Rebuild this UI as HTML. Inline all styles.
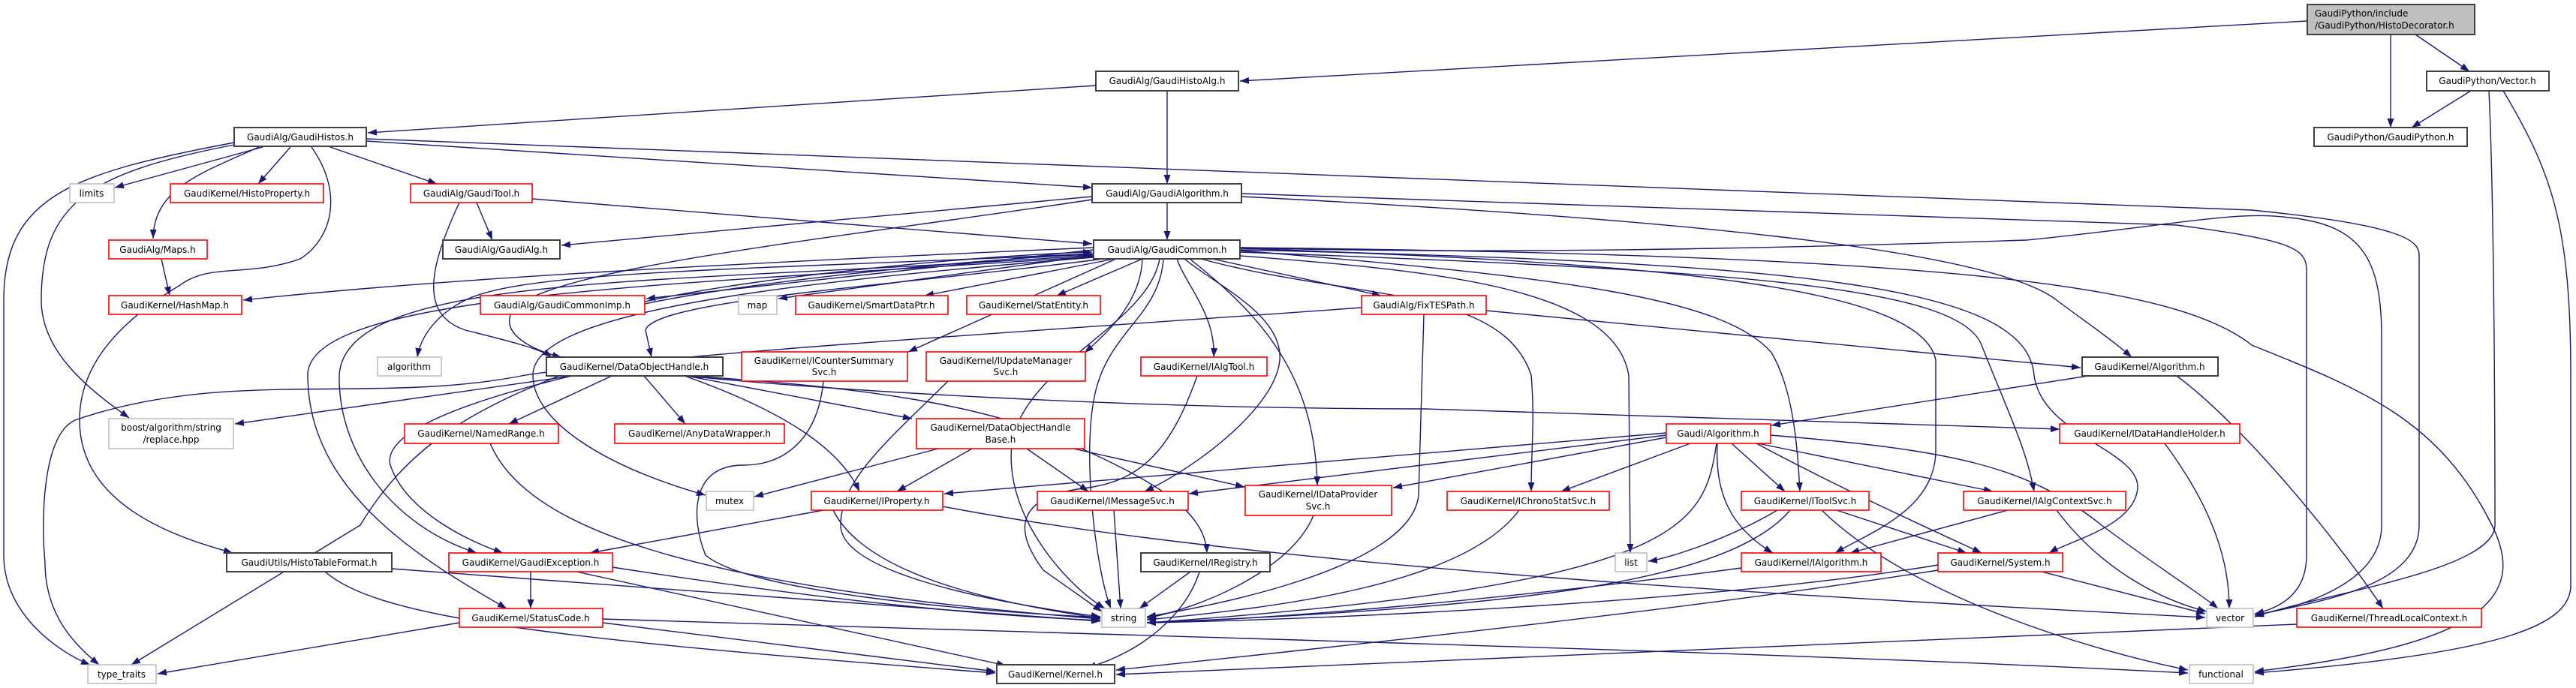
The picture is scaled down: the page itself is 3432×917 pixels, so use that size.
<!DOCTYPE html>
<html><head><meta charset="utf-8"><style>
html,body{margin:0;padding:0;background:#fff;}
svg{display:block;}
text{font-family:"DejaVu Sans","Liberation Sans",sans-serif;font-size:12px;fill:#000;}
.e{fill:none;stroke:#191970;stroke-width:1.4;marker-end:url(#a);}
.b{fill:#fff;stroke:#404040;stroke-width:2;}
.r{fill:#fff;stroke:#ff0000;stroke-width:1.6;}
.g{fill:#fff;stroke:#bfbfbf;stroke-width:1.6;}
</style></head><body>
<svg width="3432" height="917" viewBox="0 0 3432 917" xmlns="http://www.w3.org/2000/svg">
<defs><marker id="a" markerUnits="userSpaceOnUse" markerWidth="13" markerHeight="9" refX="12" refY="4.5" orient="auto"><path d="M0,0 L12,4.5 L0,9 z" fill="#191970"/></marker></defs>
<g>
<path class="e" d="M3074,28 L1652,108"/>
<path class="e" d="M3185,46 L3185,170"/>
<path class="e" d="M3218,46 L3290,95"/>
<path class="e" d="M3292,121 L3213,170"/>
<path class="e" d="M3316,121 C3322,250 3324,500 3324,700 C3324,760 3100,790 3004,822"/>
<path class="e" d="M3335,121 C3400,230 3425,300 3425,500 L3425,780 C3425,830 3350,870 3004,897"/>
<path class="e" d="M1460,114 L490,177"/>
<path class="e" d="M1555,121 L1555,245"/>
<path class="e" d="M350,196 L153,250"/>
<path class="e" d="M387,196 L344,245"/>
<path class="e" d="M440,196 L582,245"/>
<path class="e" d="M345,196 C270,230 205,250 204,318"/>
<path class="e" d="M488,188 L1455,250"/>
<path class="e" d="M488,185 L3000,280 C3200,300 3223,320 3223,340 L3223,700 C3223,780 3100,800 3004,820"/>
<path class="e" d="M312,190 C100,230 5,260 5,400 L5,740 C5,820 80,870 120,886"/>
<path class="e" d="M312,193 C120,230 55,270 55,400 C55,470 120,520 172,557"/>
<path class="e" d="M415,196 C460,260 440,320 400,345 C330,370 280,350 240,380 C140,440 106,500 106,560 C106,680 250,720 310,737"/>
<path class="e" d="M635,270 L656,320"/>
<path class="e" d="M709,265 L1455,325"/>
<path class="e" d="M612,270 C570,360 560,420 620,440 C680,455 720,465 735,476"/>
<path class="e" d="M1555,270 L1555,320"/>
<path class="e" d="M1455,262 L748,327"/>
<path class="e" d="M1455,266 C1100,320 700,360 680,420 C670,450 720,470 748,476"/>
<path class="e" d="M1654,262 C2200,290 2650,330 2740,400 C2780,430 2810,450 2840,476"/>
<path class="e" d="M1654,258 L2900,300 C3050,320 3073,330 3073,360 L3073,740 C3073,790 3040,810 3004,818"/>
<path class="e" d="M1652,330 C2000,340 2400,330 2700,320 C2900,300 2980,280 3050,290 C3150,300 3173,350 3173,450 L3173,700 C3173,780 3060,810 3004,820"/>
<path class="e" d="M1457,330 C1000,350 600,370 324,400"/>
<path class="e" d="M1457,333 L861,398"/>
<path class="e" d="M859,402 C1000,370 1300,340 1455,336"/>
<path class="e" d="M859,405 C1000,375 1300,345 1455,339"/>
<path class="e" d="M1460,340 L1037,398"/>
<path class="e" d="M1485,345 L1232,394"/>
<path class="e" d="M1522,345 L1408,394"/>
<path class="e" d="M1615,345 L1840,394"/>
<path class="e" d="M1457,338 C1000,360 700,360 620,400 C580,420 560,450 556,476"/>
<path class="e" d="M1470,345 C1200,380 870,400 860,440 L868,476"/>
<path class="e" d="M1487,345 L1210,469"/>
<path class="e" d="M1522,345 C1520,400 1480,440 1445,470"/>
<path class="e" d="M1568,345 C1580,380 1620,420 1617,476"/>
<path class="e" d="M1578,345 C1620,380 1710,420 1705,480 C1700,540 1600,620 1525,655"/>
<path class="e" d="M1585,345 C1680,420 1752,500 1755,647"/>
<path class="e" d="M1600,345 C1800,400 2000,380 2040,500 C2045,560 2040,600 2040,655"/>
<path class="e" d="M1640,340 C1900,360 2150,380 2170,500 L2172,737"/>
<path class="e" d="M1550,345 C1545,420 1480,440 1460,520 C1440,600 1460,760 1480,811"/>
<path class="e" d="M1545,345 C1530,430 1380,480 1350,580 C1330,680 1420,780 1472,811"/>
<path class="e" d="M1652,334 C2100,370 2300,400 2360,470 C2390,520 2395,600 2398,655"/>
<path class="e" d="M1652,336 C2300,360 2610,380 2640,460 C2680,560 2700,600 2710,655"/>
<path class="e" d="M1652,333 C2400,350 2700,380 2710,500 C2720,580 2850,600 2848,650 C2845,700 2760,720 2730,737"/>
<path class="e" d="M1652,331 C2200,350 2560,380 2579,480 L2579,600 C2579,680 2490,710 2445,737"/>
<path class="e" d="M1652,330 C2600,340 2900,380 3000,460 C3150,520 3250,560 3320,700 C3370,800 3300,860 3004,895"/>
<path class="e" d="M1457,340 C900,380 460,360 452,500 C450,600 520,700 635,737"/>
<path class="e" d="M1457,342 C900,380 410,390 410,500 C410,650 550,740 675,811"/>
<path class="e" d="M1457,343 C1000,380 710,420 710,500 C710,560 800,620 940,660"/>
<path class="e" d="M1814,410 C1400,440 900,470 700,500 C500,540 300,490 100,560 C55,580 55,700 60,750 C60,820 100,860 132,886"/>
<path class="e" d="M1897,419 L1890,660 C1880,760 1600,810 1528,822"/>
<path class="e" d="M1980,414 L2772,490"/>
<path class="e" d="M763,501 L313,565"/>
<path class="e" d="M745,501 C620,550 540,600 480,700 L175,886"/>
<path class="e" d="M815,501 L678,565"/>
<path class="e" d="M858,501 L913,565"/>
<path class="e" d="M915,501 L1215,558"/>
<path class="e" d="M912,501 C1050,550 1120,600 1145,655"/>
<path class="e" d="M762,501 C600,540 510,580 520,620 C540,680 620,720 670,737"/>
<path class="e" d="M915,501 C1100,520 1500,545 1900,545 L2744,572"/>
<path class="e" d="M915,501 C1150,515 1300,540 1400,580 C1540,640 1605,680 1608,737"/>
<path class="e" d="M1250,598 L1005,662"/>
<path class="e" d="M1295,598 L1195,655"/>
<path class="e" d="M1368,598 L1450,655"/>
<path class="e" d="M1430,598 L1658,649"/>
<path class="e" d="M1097,508 C1090,580 1050,620 990,620 C920,620 920,690 940,740 C1000,790 1300,815 1466,823"/>
<path class="e" d="M1263,508 C1180,590 1120,640 1120,700 C1120,760 1300,800 1466,822"/>
<path class="e" d="M1595,501 C1560,600 1520,640 1450,650 C1360,660 1345,700 1390,760 L1468,815"/>
<path class="e" d="M653,591 C700,700 900,780 1466,825"/>
<path class="e" d="M1097,680 L786,737"/>
<path class="e" d="M1110,680 C1150,760 1300,800 1466,824"/>
<path class="e" d="M1256,675 C1700,760 2500,800 2938,823"/>
<path class="e" d="M1484,680 L1493,811"/>
<path class="e" d="M1750,687 C1720,760 1600,810 1528,824"/>
<path class="e" d="M2024,680 C1950,780 1700,810 1528,826"/>
<path class="e" d="M1586,762 L1518,811"/>
<path class="e" d="M1598,762 C1580,820 1520,870 1448,890"/>
<path class="e" d="M707,762 L707,811"/>
<path class="e" d="M816,756 C1100,800 1300,820 1466,827"/>
<path class="e" d="M768,762 L1340,887"/>
<path class="e" d="M612,830 L210,898"/>
<path class="e" d="M803,830 L1326,895"/>
<path class="e" d="M803,825 C1600,850 2400,870 2915,897"/>
<path class="e" d="M522,758 L1466,828"/>
<path class="e" d="M433,762 C500,820 700,850 1326,897"/>
<path class="e" d="M2220,577 L1258,658"/>
<path class="e" d="M2220,580 L1584,658"/>
<path class="e" d="M2220,583 L1856,650"/>
<path class="e" d="M2252,591 L2080,655"/>
<path class="e" d="M2287,591 C2270,700 2250,780 1528,830"/>
<path class="e" d="M2307,591 L2378,655"/>
<path class="e" d="M2288,591 C2285,650 2300,700 2362,737"/>
<path class="e" d="M2342,591 L2655,655"/>
<path class="e" d="M2340,591 C2450,650 2560,700 2640,737"/>
<path class="e" d="M2359,580 C2600,600 2700,620 2800,700 C2880,760 2930,790 2955,811"/>
<path class="e" d="M2782,501 L2360,567"/>
<path class="e" d="M2900,501 C2980,560 3100,700 3175,811"/>
<path class="e" d="M2884,591 C2950,680 2970,750 2970,811"/>
<path class="e" d="M2368,680 C2300,720 2220,745 2196,748"/>
<path class="e" d="M2385,680 C2300,780 2000,810 1528,830"/>
<path class="e" d="M2447,680 L2620,737"/>
<path class="e" d="M2427,680 C2550,800 2800,870 2915,893"/>
<path class="e" d="M2675,680 L2465,737"/>
<path class="e" d="M2740,680 C2800,760 2880,800 2940,815"/>
<path class="e" d="M2320,757 C2000,800 1700,825 1528,830"/>
<path class="e" d="M2582,753 C2300,800 1800,825 1528,830"/>
<path class="e" d="M2720,762 L2938,818"/>
<path class="e" d="M2582,760 C2200,820 1700,870 1487,893"/>
<path class="e" d="M3060,832 L1487,899"/>
<path class="e" d="M215,345 L226,394"/>
</g>
<g>
<rect x="3074" y="6" width="223" height="40" fill="#bfbfbf" stroke="#404040" stroke-width="2"/>
<text x="3084" y="22">GaudiPython/include</text>
<text x="3084" y="38">/GaudiPython/HistoDecorator.h</text>

<rect class="b" x="1460" y="95" width="190" height="26"/><text x="1555" y="112" text-anchor="middle">GaudiAlg/GaudiHistoAlg.h</text>
<rect class="b" x="3233" y="95" width="163" height="26"/><text x="3314" y="112" text-anchor="middle">GaudiPython/Vector.h</text>
<rect class="b" x="312" y="170" width="176" height="25"/><text x="400" y="187" text-anchor="middle">GaudiAlg/GaudiHistos.h</text>
<rect class="b" x="3083" y="170" width="204" height="25"/><text x="3185" y="187" text-anchor="middle">GaudiPython/GaudiPython.h</text>
<rect class="g" x="93" y="245" width="59" height="25"/><text x="122" y="262" text-anchor="middle">limits</text>
<rect class="r" x="227" y="245" width="204" height="25"/><text x="329" y="262" text-anchor="middle">GaudiKernel/HistoProperty.h</text>
<rect class="r" x="547" y="245" width="162" height="25"/><text x="628" y="262" text-anchor="middle">GaudiAlg/GaudiTool.h</text>
<rect class="b" x="1455" y="245" width="199" height="25"/><text x="1555" y="262" text-anchor="middle">GaudiAlg/GaudiAlgorithm.h</text>
<rect class="r" x="145" y="320" width="131" height="25"/><text x="210" y="337" text-anchor="middle">GaudiAlg/Maps.h</text>
<rect class="b" x="590" y="320" width="156" height="25"/><text x="668" y="337" text-anchor="middle">GaudiAlg/GaudiAlg.h</text>
<rect class="b" x="1457" y="320" width="195" height="25"/><text x="1555" y="337" text-anchor="middle">GaudiAlg/GaudiCommon.h</text>
<rect class="r" x="145" y="394" width="177" height="25"/><text x="233" y="411" text-anchor="middle">GaudiKernel/HashMap.h</text>
<rect class="r" x="640" y="394" width="219" height="25"/><text x="749" y="411" text-anchor="middle">GaudiAlg/GaudiCommonImp.h</text>
<rect class="g" x="984" y="394" width="51" height="25"/><text x="1009" y="411" text-anchor="middle">map</text>
<rect class="r" x="1060" y="394" width="203" height="25"/><text x="1161" y="411" text-anchor="middle">GaudiKernel/SmartDataPtr.h</text>
<rect class="r" x="1288" y="394" width="178" height="25"/><text x="1377" y="411" text-anchor="middle">GaudiKernel/StatEntity.h</text>
<rect class="r" x="1814" y="394" width="166" height="25"/><text x="1897" y="411" text-anchor="middle">GaudiAlg/FixTESPath.h</text>
<rect class="g" x="503" y="476" width="85" height="25"/><text x="545" y="493" text-anchor="middle">algorithm</text>
<rect class="b" x="728" y="476" width="235" height="25"/><text x="845" y="493" text-anchor="middle">GaudiKernel/DataObjectHandle.h</text>
<rect class="r" x="988" y="469" width="221" height="39"/><text x="1098" y="485" text-anchor="middle">GaudiKernel/ICounterSummary</text><text x="1098" y="500" text-anchor="middle">Svc.h</text>
<rect class="r" x="1234" y="469" width="212" height="39"/><text x="1340" y="485" text-anchor="middle">GaudiKernel/IUpdateManager</text><text x="1340" y="500" text-anchor="middle">Svc.h</text>
<rect class="r" x="1520" y="476" width="168" height="25"/><text x="1604" y="493" text-anchor="middle">GaudiKernel/IAlgTool.h</text>
<rect class="b" x="2774" y="476" width="181" height="25"/><text x="2864" y="493" text-anchor="middle">GaudiKernel/Algorithm.h</text>
<rect class="g" x="145" y="558" width="166" height="40"/><text x="228" y="574" text-anchor="middle">boost/algorithm/string</text><text x="228" y="590" text-anchor="middle">/replace.hpp</text>
<rect class="r" x="539" y="565" width="205" height="26"/><text x="641" y="582" text-anchor="middle">GaudiKernel/NamedRange.h</text>
<rect class="r" x="819" y="565" width="226" height="26"/><text x="932" y="582" text-anchor="middle">GaudiKernel/AnyDataWrapper.h</text>
<rect class="r" x="1221" y="558" width="224" height="40"/><text x="1333" y="574" text-anchor="middle">GaudiKernel/DataObjectHandle</text><text x="1333" y="590" text-anchor="middle">Base.h</text>
<rect class="r" x="2220" y="565" width="139" height="26"/><text x="2289" y="582" text-anchor="middle">Gaudi/Algorithm.h</text>
<rect class="r" x="2744" y="565" width="240" height="26"/><text x="2864" y="582" text-anchor="middle">GaudiKernel/IDataHandleHolder.h</text>
<rect class="g" x="941" y="655" width="63" height="25"/><text x="972" y="672" text-anchor="middle">mutex</text>
<rect class="r" x="1081" y="655" width="175" height="25"/><text x="1168" y="672" text-anchor="middle">GaudiKernel/IProperty.h</text>
<rect class="r" x="1382" y="655" width="201" height="25"/><text x="1482" y="672" text-anchor="middle">GaudiKernel/IMessageSvc.h</text>
<rect class="r" x="1659" y="647" width="195" height="40"/><text x="1756" y="663" text-anchor="middle">GaudiKernel/IDataProvider</text><text x="1756" y="679" text-anchor="middle">Svc.h</text>
<rect class="r" x="1928" y="655" width="216" height="25"/><text x="2036" y="672" text-anchor="middle">GaudiKernel/IChronoStatSvc.h</text>
<rect class="r" x="2320" y="655" width="170" height="25"/><text x="2405" y="672" text-anchor="middle">GaudiKernel/IToolSvc.h</text>
<rect class="r" x="2616" y="655" width="216" height="25"/><text x="2724" y="672" text-anchor="middle">GaudiKernel/IAlgContextSvc.h</text>
<rect class="b" x="302" y="737" width="220" height="25"/><text x="412" y="754" text-anchor="middle">GaudiUtils/HistoTableFormat.h</text>
<rect class="r" x="598" y="737" width="218" height="25"/><text x="707" y="754" text-anchor="middle">GaudiKernel/GaudiException.h</text>
<rect class="b" x="1520" y="737" width="172" height="25"/><text x="1606" y="754" text-anchor="middle">GaudiKernel/IRegistry.h</text>
<rect class="g" x="2152" y="737" width="42" height="25"/><text x="2173" y="754" text-anchor="middle">list</text>
<rect class="r" x="2320" y="737" width="186" height="25"/><text x="2413" y="754" text-anchor="middle">GaudiKernel/IAlgorithm.h</text>
<rect class="r" x="2582" y="737" width="166" height="25"/><text x="2665" y="754" text-anchor="middle">GaudiKernel/System.h</text>
<rect class="r" x="612" y="811" width="191" height="25"/><text x="707" y="828" text-anchor="middle">GaudiKernel/StatusCode.h</text>
<rect class="g" x="1468" y="811" width="58" height="25"/><text x="1497" y="828" text-anchor="middle">string</text>
<rect class="g" x="2940" y="811" width="62" height="25"/><text x="2971" y="828" text-anchor="middle">vector</text>
<rect class="r" x="3060" y="811" width="246" height="25"/><text x="3183" y="828" text-anchor="middle">GaudiKernel/ThreadLocalContext.h</text>
<rect class="g" x="117" y="886" width="91" height="25"/><text x="162" y="903" text-anchor="middle">type_traits</text>
<rect class="b" x="1328" y="886" width="157" height="25"/><text x="1406" y="903" text-anchor="middle">GaudiKernel/Kernel.h</text>
<rect class="g" x="2917" y="886" width="85" height="25"/><text x="2959" y="903" text-anchor="middle">functional</text>
</g>
</svg>
</body></html>
